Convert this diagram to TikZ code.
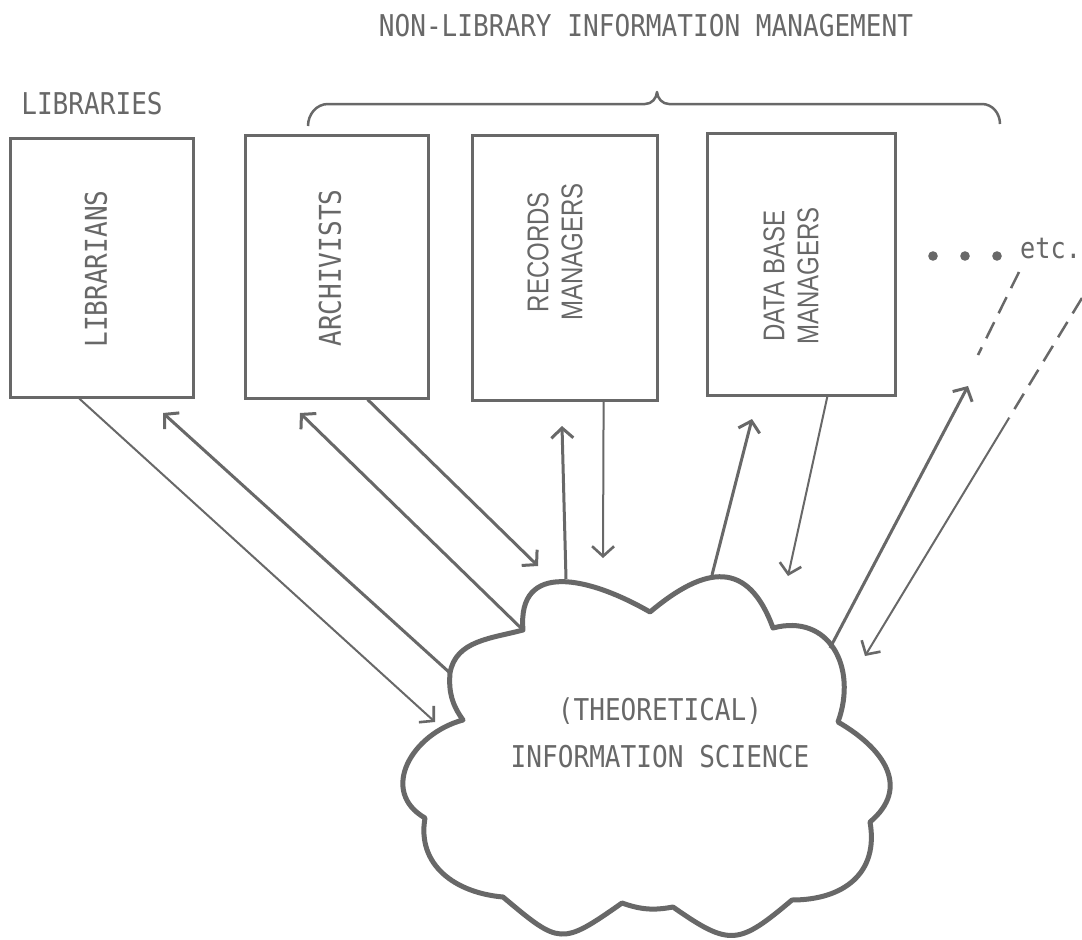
\documentclass[tikz,border=0pt]{standalone}
\usepackage{fontspec}
\usetikzlibrary{arrows.meta,calc}
\newfontfamily\typew[FakeStretch=0.87]{DejaVu Sans Mono}
\newfontfamily\letr[FakeStretch=0.8]{Liberation Sans}
\definecolor{inkc}{RGB}{104,104,104}
\begin{document}
\begin{tikzpicture}[x=1pt,y=-1pt,
  boxnode/.style={draw=inkc, line width=3pt, inner sep=0pt},
  monotext/.style={text=inkc, font=\typew\fontsize{30}{47}\selectfont, inner sep=0pt},
  sanstext/.style={text=inkc, font=\letr\fontsize{30}{34}\selectfont, inner sep=0pt, align=center},
  thinflow/.style={draw=inkc, line width=2pt, -{Straight Barb[length=10pt,width=22pt,line width=2.6pt]}},
  thickflow/.style={draw=inkc, line width=3pt, -{Straight Barb[length=10pt,width=22pt,line width=3pt]}},
  dashline/.style={draw=inkc, line width=2.5pt, dash pattern=on 18pt off 10pt},
  cloudline/.style={draw=inkc, line width=5pt, line join=round},
  bracket/.style={draw=inkc, line width=2.5pt, line join=round}]
\useasboundingbox[fill=white] (0,0) rectangle (1082,940);

% headings
\node[monotext] (title) at (646,26) {NON-LIBRARY INFORMATION MANAGEMENT};
\node[monotext] (libs) at (92,104) {LIBRARIES};

% brace over the non-library groups
\draw[bracket] (308,126) to[out=90,in=180] (328,104) -- (645,104)
  to[out=0,in=-95] (657,92) to[out=-85,in=180] (669,104) -- (982,104)
  to[out=0,in=90] (1000,124);

% the four groups
\node[boxnode, minimum width=183pt, minimum height=259pt] (lib)  at (101.5,267.5) {};
\node[boxnode, minimum width=183pt, minimum height=263pt] (arch) at (336.5,266.5) {};
\node[boxnode, minimum width=185pt, minimum height=265pt] (rec)  at (564.5,267.5) {};
\node[boxnode, minimum width=188pt, minimum height=262pt] (db)   at (801,264) {};

\node[monotext, rotate=90] (libtxt)  at (96,269)  {LIBRARIANS};
\node[monotext, rotate=90] (archtxt) at (330,268) {ARCHIVISTS};
\node[sanstext, rotate=90] (rectxt)  at (555,252) {RECORDS\\MANAGERS};
\node[sanstext, rotate=90] (dbtxt)   at (791,276) {DATA BASE\\MANAGERS};

% "... etc."
\fill[inkc] (933,256) circle (4.8pt) (965,256) circle (4.8pt) (997,256) circle (4.8pt);
\node[monotext, anchor=base west, font=\typew\fontsize{29}{34}\selectfont] (etc) at (1020,258) {etc.};

% cloud outline
\coordinate (v1) at (523,630);
\coordinate (v2) at (650,612);
\coordinate (v3) at (773,628);
\coordinate (v4) at (838,722);
\coordinate (v5) at (870,822);
\coordinate (v6) at (792,900);
\coordinate (v7) at (673,907);
\coordinate (v8) at (622,903);
\coordinate (v9) at (503,897);
\coordinate (v10) at (425,818);
\coordinate (v11) at (463,720);
\coordinate (v12) at (450,673);
\draw[cloudline] (v1)
  to[out=95,in=150,looseness=1.4] (v2)
  to[out=40,in=110,looseness=1.5] (v3)
  to[out=15,in=70,looseness=1.3] (v4)
  to[out=-30,in=40,looseness=1.3] (v5)
  to[out=-80,in=0,looseness=1.2] (v6)
  to[out=-140,in=-35,looseness=1.5] (v7)
  to[bend left=15] (v8)
  to[out=-145,in=-40,looseness=1.6] (v9)
  to[out=175,in=-100,looseness=1.1] (v10)
  to[out=150,in=195,looseness=1.3] (v11)
  to[bend left=20] (v12)
  to[out=80,in=195] (v1) -- cycle;
\node[monotext, align=center] (cloudtxt) at (660,733) {(THEORETICAL)\\INFORMATION SCIENCE};

% connector end points
\coordinate (c5) at (566,579);
\coordinate (c7) at (712,575);
\coordinate (c9) at (830,648);
\coordinate (h1) at (435,722);
\coordinate (h2) at (163,413);
\coordinate (h3) at (300,413);
\coordinate (h4) at (538,566);
\coordinate (h5) at (562,426);
\coordinate (h6) at (603,558);
\coordinate (h7) at (752,419);
\coordinate (h8) at (788,576);
\coordinate (h9) at (968,386);
\coordinate (h10) at (865,656);
\coordinate (d1a) at (1019,272);
\coordinate (d1b) at (978,355);
\coordinate (d2a) at (1082,298);
\coordinate (d2b) at (1009,418);

% flows between the groups and the cloud
\draw[thinflow]  ($(lib.south west)!0.38!(lib.south east)$) -- (h1);
\draw[thickflow] (v12) -- (h2);
\draw[thickflow] (v1) -- (h3);
\draw[thickflow] ($(arch.south west)!0.667!(arch.south east)$) -- (h4);
\draw[thickflow] (c5) -- (h5);
\draw[thinflow]  ($(rec.south west)!0.708!(rec.south east)$) -- (h6);
\draw[thickflow] (c7) -- (h7);
\draw[thinflow]  ($(db.south west)!0.638!(db.south east)$) -- (h8);
\draw[thickflow] (c9) -- (h9);
\draw[dashline] (d1a) -- (d1b);
\draw[dashline] (d2a) -- (d2b);
\draw[thinflow] (d2b) -- (h10);
\end{tikzpicture}
\end{document}
